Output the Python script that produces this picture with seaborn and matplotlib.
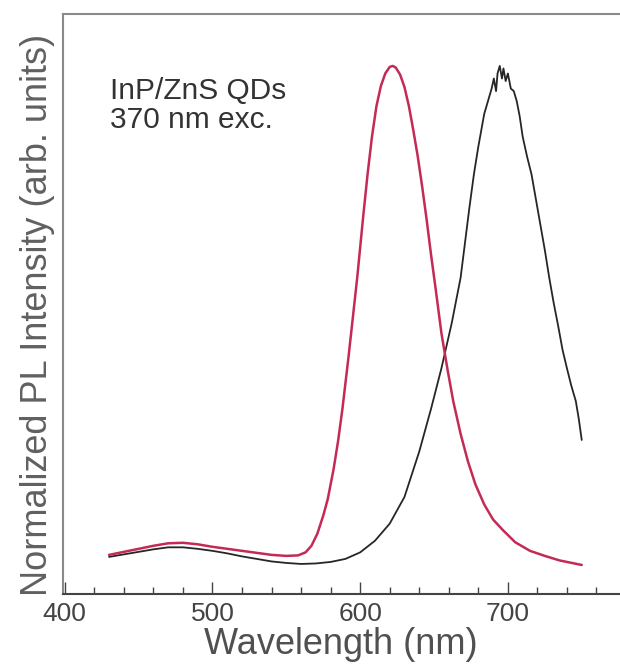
import numpy as np
import pandas as pd
import matplotlib
matplotlib.use("Agg")
import matplotlib.pyplot as plt
from matplotlib.ticker import MultipleLocator, FixedLocator
import seaborn as sns

# ---- data ----
red_wl = [430, 440, 450, 460, 470, 480, 490, 500, 510, 520, 530, 540, 550, 558,
          563, 567, 571, 575, 578, 582, 585, 588, 592, 595, 598, 602, 605, 608,
          611, 614, 617, 620, 622, 624, 627, 630, 633, 636, 639, 642, 645, 648,
          651, 655, 659, 663, 668, 673, 678, 684, 690, 697, 705, 715, 725, 735,
          745, 750]
red_int = [0.030, 0.036, 0.042, 0.048, 0.053, 0.054, 0.051, 0.046, 0.042, 0.038,
           0.034, 0.030, 0.028, 0.029, 0.035, 0.048, 0.072, 0.108, 0.140, 0.200,
           0.255, 0.320, 0.420, 0.500, 0.580, 0.700, 0.785, 0.860, 0.920, 0.960,
           0.985, 0.998, 1.000, 0.997, 0.983, 0.958, 0.920, 0.872, 0.820, 0.760,
           0.695, 0.625, 0.560, 0.470, 0.400, 0.335, 0.270, 0.215, 0.170, 0.130,
           0.100, 0.078, 0.055, 0.038, 0.028, 0.019, 0.013, 0.010]

black_wl = [430, 440, 450, 460, 470, 480, 490, 500, 510, 520, 530, 540, 550, 560,
            570, 580, 590, 600, 610, 620, 630, 640, 648, 655, 662, 668, 671, 674,
            677, 680, 684, 687, 689, 690.5, 692, 693, 694.5, 696, 697, 698.5, 700,
            702, 704, 706, 708, 710, 713, 716, 719, 722, 725, 728, 731, 734, 737,
            740, 743, 746, 748, 750]
black_int = [0.026, 0.031, 0.036, 0.041, 0.045, 0.045, 0.042, 0.038, 0.033, 0.027,
             0.022, 0.017, 0.014, 0.012, 0.013, 0.016, 0.022, 0.035, 0.058, 0.092,
             0.145, 0.235, 0.320, 0.400, 0.490, 0.580, 0.650, 0.720, 0.785, 0.840,
             0.905, 0.935, 0.955, 0.975, 0.950, 0.985, 1.000, 0.975, 0.995, 0.970,
             0.985, 0.955, 0.950, 0.930, 0.900, 0.860, 0.820, 0.785, 0.735, 0.685,
             0.635, 0.580, 0.530, 0.485, 0.437, 0.400, 0.365, 0.335, 0.300, 0.258]

x_ticks = [400, 500, 600, 700]
x_tick_labels = ["400", "500", "600", "700"]

df_red = pd.DataFrame({"wl": red_wl, "I": red_int})
df_black = pd.DataFrame({"wl": black_wl, "I": black_int})

sns.set_theme(style="white")
plt.rcParams["font.family"] = ["Liberation Sans", "DejaVu Sans"]

W, H = 620, 670
fig = plt.figure(figsize=(W / 100, H / 100), dpi=100)
left_px, top_px, bottom_px = 63.3, 14, 594
xmin, xmax = 399, 800
px_per_nm = 1.477
right_px = left_px + (xmax - xmin) * px_per_nm
ax = fig.add_axes([left_px / W, 1 - bottom_px / H,
                   (right_px - left_px) / W, (bottom_px - top_px) / H])

sns.lineplot(data=df_black, x="wl", y="I", ax=ax, color="#262626",
             linewidth=1.3, estimator=None, sort=False)
sns.lineplot(data=df_red, x="wl", y="I", ax=ax, color="#c42a55",
             linewidth=1.8, estimator=None, sort=False)

ax.set_xlim(xmin, xmax)
ax.set_ylim(-0.0476, 1.103)

ax.xaxis.set_major_locator(FixedLocator(x_ticks))
ax.set_xticklabels(x_tick_labels)
ax.xaxis.set_minor_locator(MultipleLocator(20))
ax.set_yticks([])
ax.tick_params(axis="x", which="both", direction="in", bottom=True, top=False,
               colors="#444444", labelsize=19, pad=6)
ax.tick_params(axis="x", which="major", length=9, width=1.0)
ax.tick_params(axis="x", which="minor", length=5, width=1.0)

for s in ["top", "left", "right"]:
    ax.spines[s].set_color("#8a8a8a")
    ax.spines[s].set_linewidth(1.5)
ax.spines["bottom"].set_color("#444444")
ax.spines["bottom"].set_linewidth(1.5)

ax.set_xlabel("Wavelength (nm)", fontsize=26, color="#505050")
ax.set_ylabel("Normalized PL Intensity (arb. units)", fontsize=26, color="#606060")
axw = right_px - left_px
axh = bottom_px - top_px
ax.xaxis.set_label_coords((341 - left_px) / axw, -(627 - bottom_px) / axh)
ax.yaxis.set_label_coords(-(left_px - 55) / axw, (bottom_px - 315) / axh)

ax.text((110 - left_px) / axw, (bottom_px - 77) / axh, "InP/ZnS QDs\n370 nm exc.",
        transform=ax.transAxes, ha="left", va="top", fontsize=21.5,
        color="#333333", linespacing=1.05)

fig.savefig("out.png", dpi=100)
